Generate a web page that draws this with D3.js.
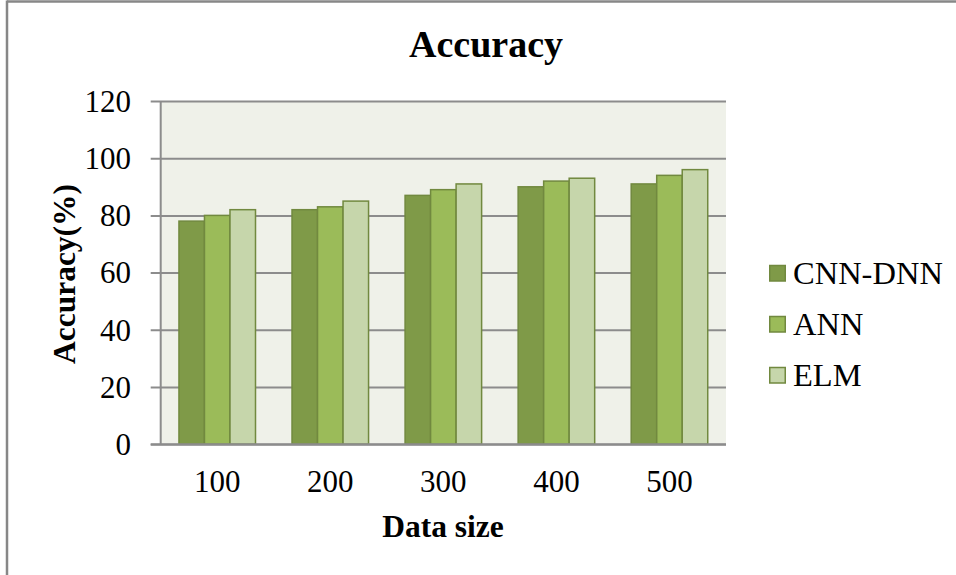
<!DOCTYPE html>
<html>
<head>
<meta charset="utf-8">
<script src="https://cdn.jsdelivr.net/npm/d3@7/dist/d3.min.js"></script>
<style>
  html, body { margin: 0; padding: 0; background: #fff; }
  svg { display: block; }
  text { font-family: "Liberation Serif", "Times New Roman", serif; fill: #000; }
</style>
</head>
<body>
<svg id="chart" width="956" height="575"></svg>
<script>
// Data
const categories = ["100", "200", "300", "400", "500"];
const seriesNames = ["CNN-DNN", "ANN", "ELM"];
const cnnDnn = [78, 82, 87, 90, 91];
const ann = [80, 83, 89, 92, 94];
const elm = [82, 85, 91, 93, 96];
const yTicks = [0, 20, 40, 60, 80, 100, 120];

const seriesValues = [cnnDnn, ann, elm];
const fills = ["#7f9a48", "#9bbb59", "#c6d6ab"];
const stroke = "#71893f";

const svg = d3.select("#chart");

// outer frame lines
svg.append("line").attr("x1", 7).attr("x2", 956).attr("y1", 1.5).attr("y2", 1.5)
  .attr("stroke", "#878787").attr("stroke-width", 2.5);
svg.append("line").attr("x1", 7).attr("x2", 7).attr("y1", 0.5).attr("y2", 575)
  .attr("stroke", "#878787").attr("stroke-width", 2.5);

const plot = { left: 160.7, right: 726, top: 101, bottom: 444.2 };

const x = d3.scaleBand().domain(categories)
  .range([plot.left, plot.right])
  .paddingInner(0.323).paddingOuter(0.1615);
const xs = d3.scaleBand().domain(seriesNames).range([0, x.bandwidth()]);
const y = d3.scaleLinear().domain([0, 120]).range([plot.bottom, plot.top]);

// plot background
svg.append("rect")
  .attr("x", plot.left).attr("y", plot.top)
  .attr("width", plot.right - plot.left).attr("height", plot.bottom - plot.top)
  .attr("fill", "#eff1e9");

// gridlines with tick extension on the left
const yAxis = d3.axisLeft(y).tickValues(yTicks)
  .tickSize(-(plot.right - plot.left)).tickPadding(0).tickFormat("");
const gy = svg.append("g").attr("transform", `translate(${plot.left},0)`).call(yAxis);
gy.select(".domain").remove();
gy.selectAll(".tick line")
  .attr("x1", -10)
  .attr("stroke", "#8c8c8c").attr("stroke-width", 2);

// y tick labels
svg.append("g").selectAll("text").data(yTicks).join("text")
  .attr("x", 131).attr("y", d => y(d))
  .attr("dy", "0.35em")
  .attr("text-anchor", "end")
  .attr("font-size", 31)
  .text(d => d);

// bars
const groups = svg.append("g").selectAll("g").data(categories).join("g")
  .attr("transform", c => `translate(${x(c)},0)`);
groups.selectAll("rect")
  .data((c, i) => seriesNames.map((s, k) => ({ s, k, v: seriesValues[k][i] })))
  .join("rect")
  .attr("x", d => xs(d.s))
  .attr("y", d => y(d.v))
  .attr("width", xs.bandwidth())
  .attr("height", d => y(0) - y(d.v))
  .attr("fill", d => fills[d.k])
  .attr("stroke", stroke).attr("stroke-width", 1.5);

// left axis line
svg.append("line").attr("x1", plot.left).attr("x2", plot.left)
  .attr("y1", plot.top).attr("y2", plot.bottom)
  .attr("stroke", "#8c8c8c").attr("stroke-width", 2);
// bottom axis line
svg.append("line").attr("x1", plot.left - 10).attr("x2", plot.right)
  .attr("y1", plot.bottom).attr("y2", plot.bottom)
  .attr("stroke", "#8c8c8c").attr("stroke-width", 2);

// x tick labels
const xAxis = d3.axisBottom(x).tickSize(0).tickPadding(0);
const gx = svg.append("g").attr("transform", `translate(0,${plot.bottom})`).call(xAxis);
gx.select(".domain").remove();
gx.selectAll(".tick text")
  .attr("y", 47.5).attr("dy", 0)
  .attr("font-size", 31)
  .attr("font-family", "Liberation Serif, Times New Roman, serif")
  .attr("fill", "#000");

// title
svg.append("text").attr("x", 486).attr("y", 57)
  .attr("text-anchor", "middle").attr("font-size", 38).attr("font-weight", "bold")
  .text("Accuracy");

// axis titles
svg.append("text")
  .attr("transform", `translate(75,274) rotate(-90)`)
  .attr("text-anchor", "middle").attr("font-size", 31.5).attr("font-weight", "bold")
  .text("Accuracy(%)");
svg.append("text").attr("x", 443).attr("y", 537)
  .attr("text-anchor", "middle").attr("font-size", 31.5).attr("font-weight", "bold")
  .text("Data size");

// legend
const legend = svg.append("g").selectAll("g").data(seriesNames).join("g")
  .attr("transform", (d, i) => `translate(769,${273 + i * 51})`);
legend.append("rect")
  .attr("x", 0.75).attr("y", -7.5).attr("width", 15.5).attr("height", 15.5)
  .attr("fill", (d, i) => fills[i]).attr("stroke", stroke).attr("stroke-width", 1.5);
legend.append("text")
  .attr("x", 24).attr("y", 0).attr("dy", "0.35em")
  .attr("font-size", 32.5)
  .text(d => d);
</script>
</body>
</html>
